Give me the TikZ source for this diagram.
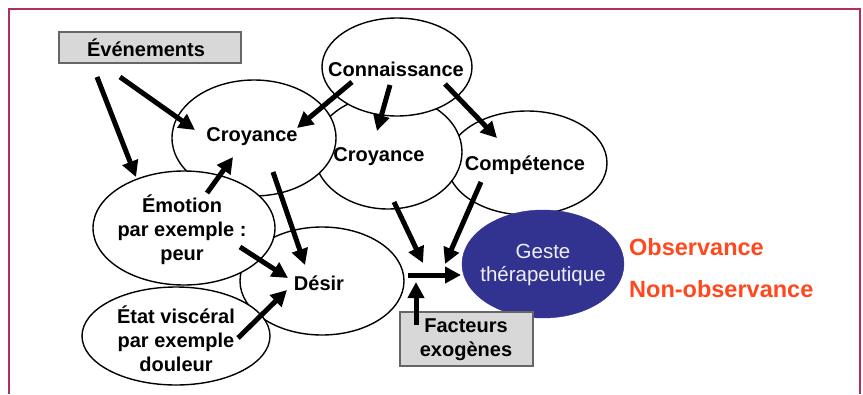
\documentclass[tikz,border=0pt]{standalone}
\usepackage{fontspec}
\setmainfont{Liberation Sans}
\usetikzlibrary{arrows.meta,shapes.geometric}
\definecolor{framecol}{RGB}{176,48,88}
\definecolor{gestecol}{RGB}{50,50,145}
\definecolor{obscol}{RGB}{255,72,30}
\definecolor{boxgray}{RGB}{216,216,216}
\begin{document}
\begin{tikzpicture}[x=1pt,y=-1pt,
  ell/.style={ellipse, draw=black, line width=1.4pt, fill=white, inner sep=0pt},
  lbl/.style={inner sep=0pt, align=center, font=\fontsize{20}{24}\selectfont\bfseries},
  gbox/.style={draw=black!60, line width=1.2pt, fill=boxgray, inner sep=0pt},
  arr/.style={line width=5pt, -{Triangle[length=16pt,width=16pt]}},
  obstext/.style={inner sep=0pt, anchor=west, text=obscol, font=\fontsize{23.5}{28}\selectfont\bfseries},
]
\useasboundingbox (0,0) rectangle (863,394);
% frame
\draw[framecol, line width=1.5pt] (9,394) -- (9,9) -- (860,9) -- (860,394);
% ellipses (back to front)
\node[ell, minimum width=160pt, minimum height=104pt] (comp) at (527,163) {};
\node[ell, minimum width=148pt, minimum height=114pt] (mcroy) at (388,152) {};
\node[ell, minimum width=150pt, minimum height=98pt] (conn) at (397,67) {};
\node[ell, minimum width=164pt, minimum height=116pt] (lcroy) at (254,138) {};
\node[ellipse, fill=gestecol, draw=gestecol, inner sep=0pt, minimum width=162pt, minimum height=108pt] (geste) at (543,264) {};
\node[ell, minimum width=164pt, minimum height=108pt] (desir) at (322,281) {};
\node[ell, minimum width=182pt, minimum height=114pt] (emo) at (184,228) {};
\node[ell, minimum width=188pt, minimum height=98pt] (etat) at (176,336) {};
% boxes
\node[gbox, minimum width=182pt, minimum height=31pt] (evbox) at (150,47.5) {};
\node[gbox, minimum width=133pt, minimum height=54pt] (facbox) at (466.5,339) {};
% labels
\node[lbl] (tev) at (146,48) {Événements};
\node[lbl] (tconn) at (396,69) {Connaissance};
\node[lbl] (tlcroy) at (252,137) {Croyance};
\node[lbl] (tmcroy) at (379,157) {Croyance};
\node[lbl] (tcomp) at (525,165) {Compétence};
\node[lbl] (temo) at (182,229.5) {Émotion\\par exemple :\\peur};
\node[lbl] (tdesir) at (319,283) {Désir};
\node[lbl] (tetat) at (176,338.5) {État viscéral\\par exemple\\douleur};
\node[lbl] (tfac) at (466,340) {Facteurs\\exogènes};
\node[inner sep=0pt, align=center, text=white!92!gestecol, font=\fontsize{20.5}{23}\selectfont] (tgeste) at (543,264.5) {Geste\\thérapeutique};
\node[obstext] (obs) at (629,247) {Observance};
\node[obstext] (nobs) at (629,289) {Non-observance};
% arrow end points
\coordinate (a1s) at (97,77);   \coordinate (a1e) at (136,177);
\coordinate (a2s) at (120,77);  \coordinate (a2e) at (195,130);
\coordinate (a3s) at (352,82);  \coordinate (a3e) at (297,128);
\coordinate (a4s) at (390,85);  \coordinate (a4e) at (377,131);
\coordinate (a5s) at (445,84);  \coordinate (a5e) at (497,138);
\coordinate (a6s) at (207,193); \coordinate (a6e) at (233,157);
\coordinate (a7s) at (273,172); \coordinate (a7e) at (305,265);
\coordinate (a8s) at (240,247); \coordinate (a8e) at (288,278);
\coordinate (a9s) at (238,338); \coordinate (a9e) at (287,290);
\coordinate (a10s) at (394,202); \coordinate (a10e) at (423,263);
\coordinate (a11s) at (481,182); \coordinate (a11e) at (445,264);
\coordinate (jn) at (408,275);   \coordinate (a12e) at (461,275);
\coordinate (a13s) at (416,325); \coordinate (a13e) at (416,282);
% arrows
\draw[arr] (a1s) -- (a1e);
\draw[arr] (a2s) -- (a2e);
\draw[arr] (a3s) -- (a3e);
\draw[arr] (a4s) -- (a4e);
\draw[arr] (a5s) -- (a5e);
\draw[arr] (a6s) -- (a6e);
\draw[arr] (a7s) -- (a7e);
\draw[arr] (a8s) -- (a8e);
\draw[arr] (a9s) -- (a9e);
\draw[arr] (a10s) -- (a10e);
\draw[arr] (a11s) -- (a11e);
\draw[arr] (jn) -- (a12e);
\draw[arr] (a13s) -- (a13e);
\end{tikzpicture}
\end{document}
